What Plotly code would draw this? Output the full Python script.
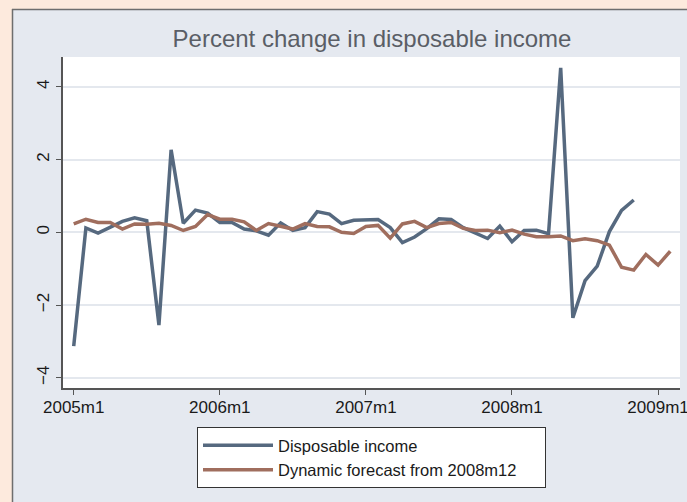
import plotly.graph_objects as go

# months since 2005m1
tick_months = [0, 12, 24, 36, 48]
tick_labels = ["2005m1", "2006m1", "2007m1", "2008m1", "2009m1"]

income = [-3.13, 0.12, -0.02, 0.14, 0.30, 0.40, 0.32, -2.55, 2.27, 0.25,
          0.61, 0.53, 0.27, 0.27, 0.09, 0.04, -0.08, 0.26, 0.05, 0.13,
          0.57, 0.50, 0.24, 0.33, 0.35, 0.35, 0.13, -0.28, -0.13, 0.10,
          0.37, 0.35, 0.13, -0.02, -0.17, 0.17, -0.26, 0.05, 0.06, -0.04,
          4.52, -2.35, -1.33, -0.93, 0.02, 0.60, 0.89]
forecast = [0.23, 0.36, 0.27, 0.27, 0.09, 0.23, 0.22, 0.25, 0.19, 0.05,
            0.16, 0.49, 0.36, 0.36, 0.29, 0.05, 0.24, 0.17, 0.09, 0.24,
            0.16, 0.15, 0.00, -0.03, 0.16, 0.19, -0.16, 0.23, 0.30, 0.13,
            0.24, 0.27, 0.11, 0.05, 0.06, -0.01, 0.06, -0.05, -0.12, -0.12,
            -0.10, -0.23, -0.18, -0.23, -0.35, -0.96, -1.04, -0.61, -0.90, -0.52]

income_x = list(range(len(income)))
forecast_x = list(range(len(forecast)))

W, H = 687, 502
L, R, T, B = 63, 7, 57, 114
pw, ph = W - L - R, H - T - B
panel = "#e5e9f0"
peach = "#fdeadd"

def px_x(p):
    return (p - L) / pw

def px_y(p):
    return (H - B - p) / ph

fig = go.Figure()
fig.add_trace(go.Scatter(x=income_x, y=income, mode="lines", name="Disposable income",
                         line=dict(color="#56697f", width=3.5)))
fig.add_trace(go.Scatter(x=forecast_x, y=forecast, mode="lines",
                         name="Dynamic forecast from 2008m12" + "\u00a0" * 5,
                         line=dict(color="#a06e5e", width=3.5)))

shapes = [
    dict(type="rect", xref="paper", yref="paper", x0=px_x(0), x1=px_x(12), y0=px_y(H), y1=px_y(0),
         fillcolor=peach, line=dict(width=0), layer="above"),
    dict(type="rect", xref="paper", yref="paper", x0=px_x(0), x1=px_x(W), y0=px_y(9), y1=px_y(0),
         fillcolor=peach, line=dict(width=0), layer="above"),
    dict(type="line", xref="paper", yref="paper", x0=px_x(12.5), x1=px_x(12.5), y0=px_y(H), y1=px_y(9),
         line=dict(color="#6e6e6e", width=1.5)),
    dict(type="line", xref="paper", yref="paper", x0=px_x(12), x1=px_x(W), y0=px_y(9.5), y1=px_y(9.5),
         line=dict(color="#6e6e6e", width=1.5)),
]

fig.update_layout(
    width=W, height=H,
    margin=dict(l=L, r=R, t=T, b=B),
    paper_bgcolor=panel,
    plot_bgcolor="white",
    font=dict(family="Liberation Sans, Arial, sans-serif", size=17, color="#1a1a1a"),
    title=dict(text="Percent change in disposable income", x=px_x(372), xanchor="center",
               xref="paper", y=1 - 39 / H, yanchor="middle",
               font=dict(size=24, color="#5a5e66")),
    showlegend=True,
    legend=dict(x=px_x(197), y=px_y(427), xanchor="left", yanchor="top",
                bgcolor="white", bordercolor="#333333", borderwidth=1,
                font=dict(size=16.5, color="#1a1a1a"), itemwidth=70,
                tracegroupgap=0),
    shapes=shapes,
)
fig.update_xaxes(range=[-0.88, 49.8], tickvals=tick_months, ticktext=tick_labels,
                 ticklabeloverflow="allow", ticklabelstandoff=-2, automargin=False,
                 showgrid=False, zeroline=False, showline=True, linecolor="#555555", linewidth=1.5,
                 ticks="outside", ticklen=5, tickcolor="#555555", tickwidth=1.2)
fig.update_yaxes(range=[-4.28, 4.82], tickvals=[-4, -2, 0, 2, 4], ticktext=["\u22124", "\u22122", "0", "2", "4"],
                 tickangle=-90, automargin=False,
                 showgrid=True, gridcolor="#e4e8ee", gridwidth=1.5, zeroline=False,
                 showline=True, linecolor="#555555", linewidth=1.5,
                 ticks="outside", ticklen=5, tickcolor="#555555", tickwidth=1.2)

js = (
    "document.documentElement.style.overflow='hidden';"
    "document.body.style.margin='0';document.body.style.overflow='hidden';"
    "document.body.style.background='" + panel + "';"
    "var d=document.getElementById('{plot_id}');d.style.overflow='hidden';"
    "d.querySelectorAll('svg').forEach(function(s){s.style.overflow='hidden';});"
)
fig.write_html("out.html", config={"displayModeBar": False}, post_script=js)
